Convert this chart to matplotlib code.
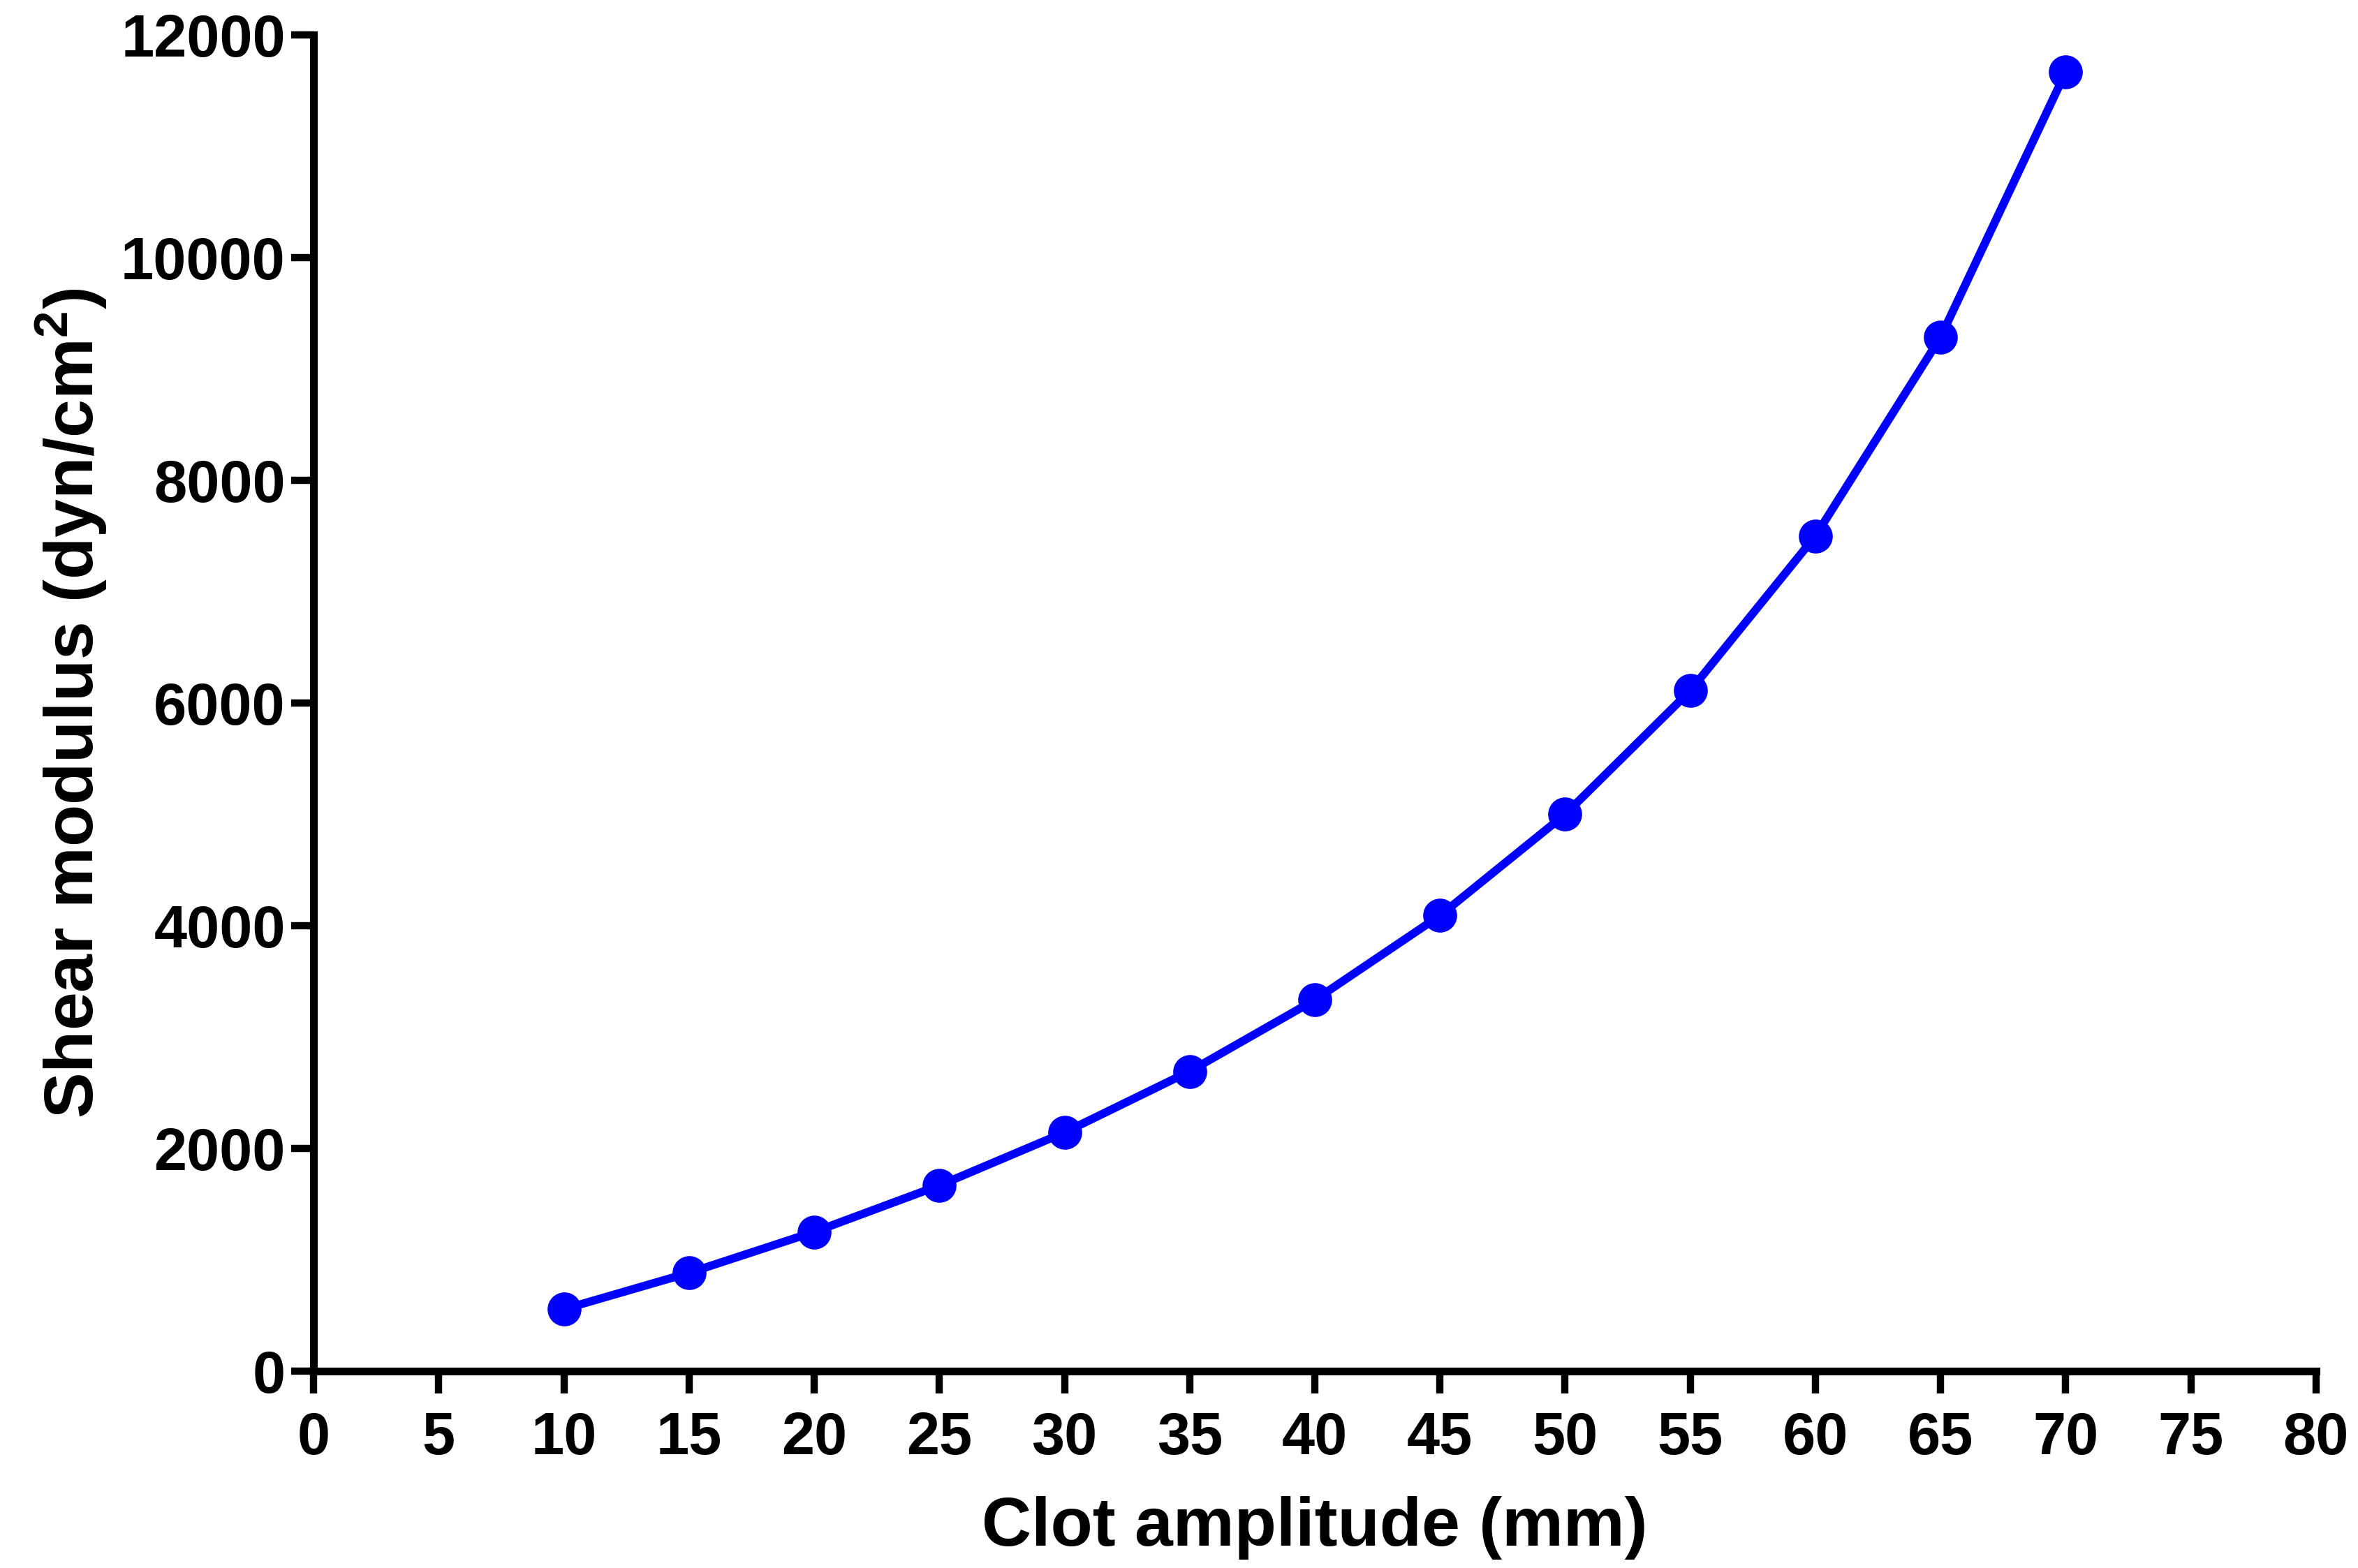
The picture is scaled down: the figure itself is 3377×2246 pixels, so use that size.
import matplotlib
matplotlib.use("Agg")
import matplotlib.pyplot as plt

# clot amplitude (mm) vs shear modulus (dyn/cm^2)
amplitude = [10, 15, 20, 25, 30, 35, 40, 45, 50, 55, 60, 65, 70]
shear_modulus = [556, 882, 1250, 1667, 2143, 2692, 3333, 4091, 5000, 6111, 7500, 9286, 11667]

x_ticks = list(range(0, 81, 5))
y_ticks = list(range(0, 12001, 2000))

plt.rcParams['font.family'] = ['Liberation Sans', 'DejaVu Sans']
plt.rcParams['font.weight'] = 'bold'
plt.rcParams['mathtext.fontset'] = 'custom'
plt.rcParams['mathtext.rm'] = 'Liberation Sans:bold'
plt.rcParams['mathtext.default'] = 'rm'


def main():
    fig = plt.figure(figsize=(33.77, 22.46), dpi=100)
    ax = fig.add_axes([0.1330, 0.1256, 0.9822 - 0.1330, 0.9777 - 0.1256])

    ax.plot(amplitude, shear_modulus, color='#0000ff', linewidth=8.5,
            marker='o', markersize=35, markeredgewidth=0, clip_on=False)

    ax.set_xlim(0, 80)
    ax.set_ylim(0, 12000)
    ax.set_xticks(x_ticks)
    ax.set_yticks(y_ticks)

    for side in ['top', 'right']:
        ax.spines[side].set_visible(False)
    for side in ['left', 'bottom']:
        ax.spines[side].set_linewidth(8)
        ax.spines[side].set_capstyle('projecting')

    ax.tick_params(axis='both', length=23, width=7.5, direction='out',
                   labelsize=61, color='black')
    ax.tick_params(axis='x', pad=18)
    ax.tick_params(axis='y', pad=6)
    for lbl in ax.get_xticklabels() + ax.get_yticklabels():
        lbl.set_fontweight('bold')

    ax.set_xlabel('Clot amplitude (mm)', fontsize=71, fontweight='bold', labelpad=30)
    ax.set_ylabel(r'Shear modulus (dyn/cm$^2$)', fontsize=71, fontweight='bold', labelpad=12)

    fig.savefig('out.png', dpi=100, facecolor='white')


main()
